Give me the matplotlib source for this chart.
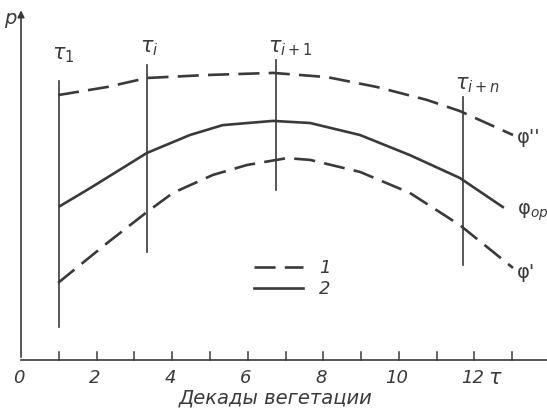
import matplotlib.pyplot as plt
import numpy as np

plt.rcParams['font.family'] = ['Liberation Sans Narrow', 'DejaVu Sans']
plt.rcParams['mathtext.fontset'] = 'dejavusans'

# декады (ось x) и значения кривых (в условных единицах p)
x_upper = [0.98, 2.28, 3.33, 4.92, 6.67, 8.10, 9.42, 10.74, 11.61, 13.02]
y_upper = [8.83, 9.10, 9.40, 9.50, 9.57, 9.43, 9.10, 8.67, 8.30, 7.50]   # φ''

x_opt = [1.03, 1.83, 3.33, 4.47, 5.34, 6.67, 7.65, 8.97, 10.29, 11.61, 12.75]
y_opt = [5.13, 5.73, 6.90, 7.50, 7.83, 7.97, 7.90, 7.50, 6.83, 6.07, 5.10]  # φop

x_lower = [0.98, 2.28, 3.33, 4.02, 5.08, 5.98, 7.04, 7.65, 8.97, 10.29, 11.61, 13.02]
y_lower = [2.57, 3.90, 4.93, 5.57, 6.17, 6.50, 6.73, 6.67, 6.27, 5.57, 4.50, 3.07]  # φ'

# моменты τ: положение и вертикальный отрезок
tau_x = [1.0, 3.33, 6.75, 11.69]
tau_top = [9.3, 9.83, 10.0, 8.77]
tau_bot = [1.1, 3.6, 5.67, 3.17]
tau_labels = [r'$\tau_1$', r'$\tau_i$', r'$\tau_{i+1}$', r'$\tau_{i+n}$']
tau_lab_pos = [(0.82, 10.17), (3.15, 10.4), (6.53, 10.4), (11.48, 9.17)]

ticks = np.arange(1, 14)
tick_labels = [0, 2, 4, 6, 8, 10, 12]

fig = plt.figure(figsize=(5.47, 4.12), dpi=100)
ax = fig.add_axes([0, 0, 1, 1])
ax.set_xlim(-0.556, 13.92)
ax.set_ylim(-1.733, 12)
ax.axis('off')

col = '#3a3a3a'
dash = (0, (8, 3.5))

# оси
ax.plot([0, 14], [0, 0], color=col, lw=1.2)
ax.annotate('', xy=(0, 11.75), xytext=(0, 0),
            arrowprops=dict(arrowstyle='-|>', color=col, lw=1.2, mutation_scale=10))
for t in ticks:
    ax.plot([t, t], [0, 0.28], color=col, lw=1.1)
for t in tick_labels:
    ax.text(t - 0.05, -0.6, str(t), ha='center', va='center', fontsize=13,
            style='italic', color=col)
ax.text(12.55, -0.6, r'$\tau$', ha='center', va='center', fontsize=15, color=col)
ax.text(6.75, -1.28, 'Декады вегетации', ha='center', va='center', fontsize=14,
        style='italic', color=col)
ax.text(-0.28, 11.4, 'p', ha='center', va='center', fontsize=14, style='italic', color=col)

# вертикальные линии τ
for xv, yt, yb, lab, (lx, ly) in zip(tau_x, tau_top, tau_bot, tau_labels, tau_lab_pos):
    ax.plot([xv, xv], [yb, yt], color=col, lw=1.2)
    ax.text(lx, ly, lab, ha='left', va='center', fontsize=15, color=col)

# кривые
l1, = ax.plot(x_upper, y_upper, color=col, lw=1.9, linestyle=dash, label='1')
ax.plot(x_lower, y_lower, color=col, lw=1.9, linestyle=dash)
l2, = ax.plot(x_opt, y_opt, color=col, lw=1.9, label='2')

ax.text(13.12, 7.43, "φ''", ha='left', va='center', fontsize=14, color=col)
ax.text(13.12, 4.93, 'φ$_{op}$', ha='left', va='center', fontsize=14, color=col)
ax.text(13.12, 2.93, "φ'", ha='left', va='center', fontsize=14, color=col)

leg = ax.legend(handles=[l1, l2], loc='upper left', bbox_to_anchor=(0.435, 0.41),
                frameon=False, handlelength=2.7, handletextpad=0.9,
                labelspacing=0.15, prop={'style': 'italic', 'size': 13})
for txt in leg.get_texts():
    txt.set_color(col)

fig.savefig('out.png', dpi=100)
